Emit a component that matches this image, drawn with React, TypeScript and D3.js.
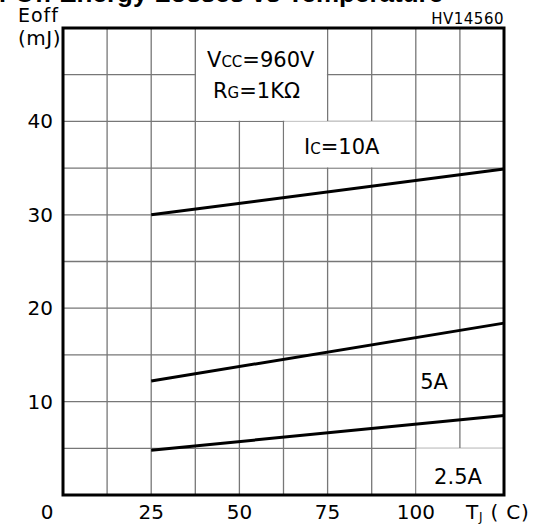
import * as d3 from 'd3';

// values
const tempEnds = [25, 125];
const eoff10A = [30.0, 34.9];
const eoff5A = [12.2, 18.4];
const eoff2p5A = [4.8, 8.5];
const xTicks = [0, 25, 50, 75, 100];
const yTicks = [10, 20, 30, 40];
const xGrid = d3.range(12.5, 125, 12.5);
const yGrid = d3.range(5, 50, 5);

const W = 534;
const H = 531;
const margin = { top: 28, right: 30, bottom: 36, left: 63 };
const FONT = 'DejaVu Sans, sans-serif';

export default function App() {
  const x = d3.scaleLinear().domain([0, 125]).range([margin.left, W - margin.right]);
  const y = d3.scaleLinear().domain([0, 50]).range([H - margin.bottom, margin.top]);

  const line = d3.line<number>()
    .x((_, i) => x(tempEnds[i]))
    .y(d => y(d));

  // white boxes behind the annotations (they cut the grid)
  const boxes = [
    [37.5, 75, 40, 50],
    [62.5, 100, 35, 40],
    [100, 125, 0, 5],
  ];

  return (
    <svg width={W} height={H} style={{ position: 'absolute', left: 0, top: 0, background: '#fff' }}
      fontFamily={FONT}>
      {/* title, cut off at the top of the image */}
      <text x={-50} y={2} fontSize={26} fontWeight="bold" fontFamily="Liberation Sans, sans-serif">
        Turn-Off Energy Losses vs Temperature
      </text>
      <text x={x(125)} y={24} fontSize={15} textAnchor="end" letterSpacing={0.5}>HV14560</text>

      {xGrid.map(t => (
        <line key={'gx' + t} x1={x(t)} x2={x(t)} y1={y(0)} y2={y(50)} stroke="#777" strokeWidth={1.3} />
      ))}
      {yGrid.map(t => (
        <line key={'gy' + t} x1={x(0)} x2={x(125)} y1={y(t)} y2={y(t)} stroke="#777" strokeWidth={1.3} />
      ))}
      {boxes.map((b, i) => (
        <rect key={'b' + i} x={x(b[0]) + 0.7} y={y(b[3])} width={x(b[1]) - x(b[0]) - 1.4}
          height={y(b[2]) - y(b[3]) - 0.7} fill="#fff" />
      ))}

      <path d={line(eoff10A) || ''} fill="none" stroke="#000" strokeWidth={3} />
      <path d={line(eoff5A) || ''} fill="none" stroke="#000" strokeWidth={3} />
      <path d={line(eoff2p5A) || ''} fill="none" stroke="#000" strokeWidth={3} />

      <rect x={x(0)} y={y(50)} width={x(125) - x(0)} height={y(0) - y(50)}
        fill="none" stroke="#000" strokeWidth={3} />

      {/* annotations */}
      <text x={207} y={67} fontSize={21}>
        V<tspan fontSize={15}>CC</tspan>=960V
      </text>
      <text x={213} y={98} fontSize={21}>
        R<tspan fontSize={15}>G</tspan>=1KΩ
      </text>
      <text x={304} y={154} fontSize={21}>
        I<tspan fontSize={15}>C</tspan>=10A
      </text>
      <text x={434} y={389} fontSize={21} textAnchor="middle">5A</text>
      <text x={458} y={484} fontSize={21} textAnchor="middle">2.5A</text>

      {/* axis labels */}
      {yTicks.map(t => (
        <text key={'yt' + t} x={x(0) - 10} y={y(t) + 7} fontSize={20} textAnchor="end">{t}</text>
      ))}
      {xTicks.map(t => (
        <text key={'xt' + t} x={t === 0 ? 47 : x(t)} y={519} fontSize={20} textAnchor="middle">{t}</text>
      ))}
      <text x={466} y={519} fontSize={20} letterSpacing={0.8}>
        T<tspan fontSize={12} dy={2}>J</tspan><tspan dy={-2}> ( C)</tspan>
      </text>
      <text x={59} y={22} fontSize={19} textAnchor="end" letterSpacing={1}>Eoff</text>
      <text x={61} y={45} fontSize={20} textAnchor="end" letterSpacing={0.5}>(mJ)</text>
    </svg>
  );
}
